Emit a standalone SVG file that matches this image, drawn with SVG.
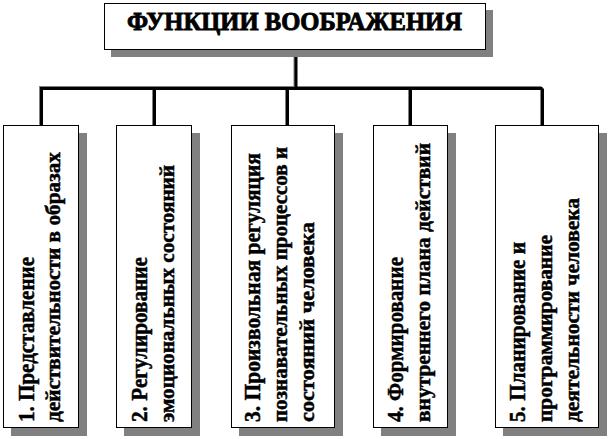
<svg xmlns="http://www.w3.org/2000/svg" width="609" height="439" viewBox="0 0 609 439">
<style>
.bg{fill:#ffffff}
.sh{fill:#808080}
.box{fill:#ffffff;stroke:#000000;stroke-width:1}
.t{font-family:"Liberation Serif","Times New Roman",serif;font-weight:bold;fill:#000000;stroke:#000000;stroke-width:0.5}
.h{font-size:25px;stroke-width:0.9}
.l1{font-size:23px}
.l2{font-size:21px}
.cg{fill:none;stroke:#808080;stroke-width:3}
.cb{fill:none;stroke:#000000;stroke-width:3}
</style>
<rect class="bg" x="0" y="0" width="609" height="439"/>
<g id="connectors">
<path class="cg" d="M295 50 V87.5 M40.5 126 V87.5 H541.5 M153.5 87.5 V126 M286.5 87.5 V126 M409.5 87.5 V126 M541.5 87.5 V126"/>
<path class="cb" d="M296 50 V88.5 M41.5 126 V88.5 H542.5 M154.5 88.5 V126 M287.5 88.5 V126 M410.5 88.5 V126 M542.5 88.5 V126"/>
</g>
<g id="title">
<rect class="sh" x="111" y="10" width="382" height="47"/>
<rect class="box" x="104.5" y="3.5" width="381" height="46"/>
<text class="t h" x="294.5" y="30" text-anchor="middle" textLength="335" lengthAdjust="spacingAndGlyphs">ФУНКЦИИ ВООБРАЖЕНИЯ</text>
</g>
<g id="node1">
<rect class="sh" x="11" y="133" width="76" height="303"/>
<rect class="box" x="3.5" y="125.5" width="75" height="302"/>
<text class="t l1" transform="translate(34,422) rotate(-90)" textLength="165" lengthAdjust="spacingAndGlyphs">1. Представление</text>
<text class="t l2" transform="translate(60,422) rotate(-90)" textLength="270" lengthAdjust="spacingAndGlyphs">действительности  в образах</text>
</g>
<g id="node2">
<rect class="sh" x="124" y="133" width="76" height="303"/>
<rect class="box" x="116.5" y="125.5" width="75" height="302"/>
<text class="t l1" transform="translate(147,422) rotate(-90)" textLength="165" lengthAdjust="spacingAndGlyphs">2. Регулирование</text>
<text class="t l2" transform="translate(174,422) rotate(-90)" textLength="257" lengthAdjust="spacingAndGlyphs">эмоциональных состояний</text>
</g>
<g id="node3">
<rect class="sh" x="239" y="133" width="104" height="303"/>
<rect class="box" x="231.5" y="125.5" width="103" height="302"/>
<text class="t l1" transform="translate(260,422) rotate(-90)" textLength="269" lengthAdjust="spacingAndGlyphs">3. Произвольная регуляция</text>
<text class="t l2" transform="translate(287,422) rotate(-90)" textLength="275" lengthAdjust="spacingAndGlyphs">познавательных процессов и</text>
<text class="t l2" transform="translate(314,422) rotate(-90)" textLength="200" lengthAdjust="spacingAndGlyphs">состояний человека</text>
</g>
<g id="node4">
<rect class="sh" x="381" y="133" width="75" height="303"/>
<rect class="box" x="373.5" y="125.5" width="74" height="302"/>
<text class="t l1" transform="translate(403,422) rotate(-90)" textLength="165" lengthAdjust="spacingAndGlyphs">4. Формирование</text>
<text class="t l2" transform="translate(430,422) rotate(-90)" textLength="279" lengthAdjust="spacingAndGlyphs">внутреннего плана действий</text>
</g>
<g id="node5">
<rect class="sh" x="503" y="133" width="104" height="303"/>
<rect class="box" x="495.5" y="125.5" width="103" height="302"/>
<text class="t l1" transform="translate(525,422) rotate(-90)" textLength="180" lengthAdjust="spacingAndGlyphs">5. Планирование и</text>
<text class="t l2" transform="translate(552,422) rotate(-90)" textLength="187" lengthAdjust="spacingAndGlyphs">программирование</text>
<text class="t l2" transform="translate(579,422) rotate(-90)" textLength="224" lengthAdjust="spacingAndGlyphs">деятельности  человека</text>
</g>
</svg>
